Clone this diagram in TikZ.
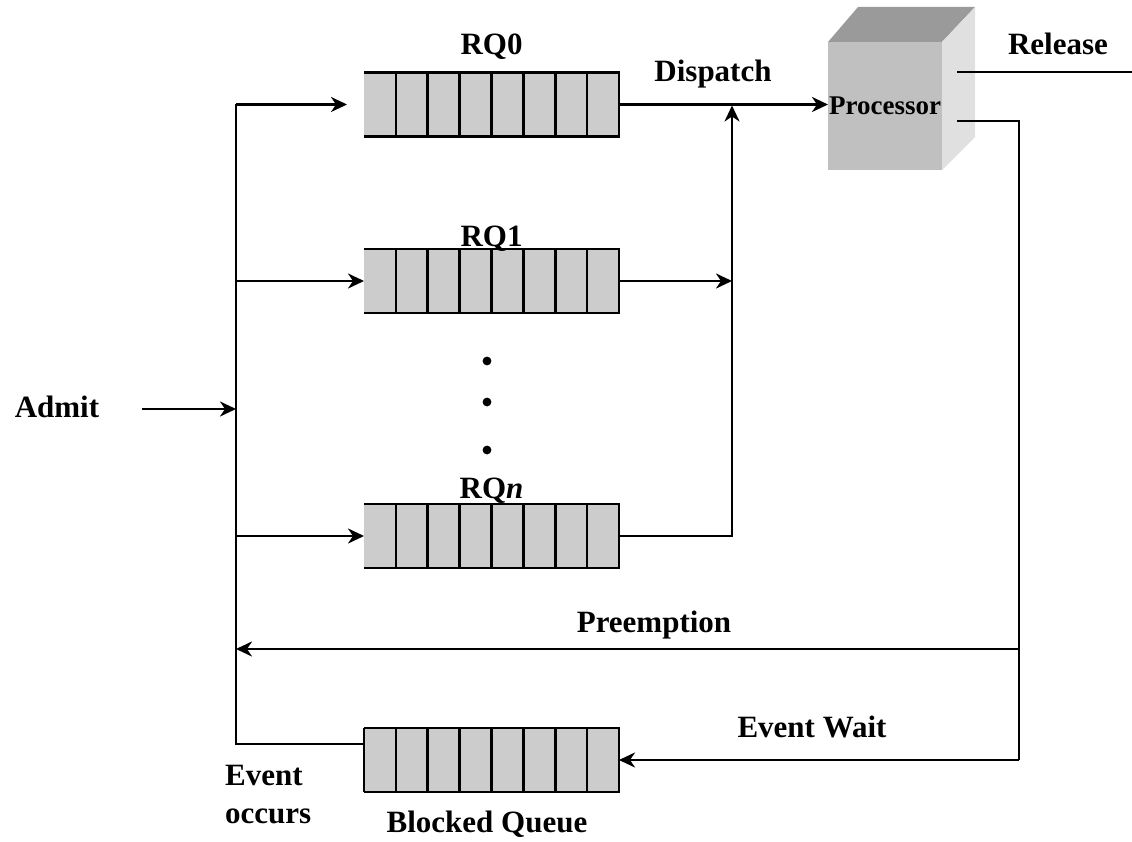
\documentclass[tikz,border=0pt]{standalone}
\usepackage{fontspec}
\setmainfont{Liberation Serif}
\usetikzlibrary{arrows.meta,calc}
\definecolor{qgray}{HTML}{CCCCCC}
\definecolor{cubetop}{HTML}{9A9A9A}
\definecolor{cubefront}{HTML}{C0C0C0}
\definecolor{cubeside}{HTML}{E0E0E0}

% cell dividers plus top, right and bottom edges of a queue node
\newcommand\queuecells[1]{%
  \foreach \k in {1,...,7}{%
    \draw[wire] ($(#1.north west)!\k/8!(#1.north east)$) -- ($(#1.south west)!\k/8!(#1.south east)$);}
  \draw[wire] (#1.north west) -- (#1.north east) -- (#1.south east) -- (#1.south west);
}

\begin{document}
\begin{tikzpicture}[x=1pt,y=-1pt,
  wire/.style={line width=2.6pt},
  flow/.style={line width=2.6pt,-{Stealth[length=16pt,width=15pt,inset=5pt]}},
  queuebox/.style={fill=qgray,minimum width=255pt,minimum height=64pt,inner sep=0pt,outer sep=0pt},
  lbl/.style={font=\fontsize{31}{36}\selectfont\bfseries,inner sep=0pt,anchor=base},
  plbl/.style={font=\fontsize{27}{30}\selectfont\bfseries,inner sep=0pt,anchor=base}]

\useasboundingbox (0,0) rectangle (1132,842);

% ready queues and blocked queue
\node[queuebox] (rq0) at (491.5,104.5) {};
\node[queuebox] (rq1) at (491.5,281) {};
\node[queuebox] (rqn) at (491.5,536) {};
\node[queuebox] (bq)  at (491.5,760) {};
\queuecells{rq0}
\queuecells{rq1}
\queuecells{rqn}
\queuecells{bq}
\draw[wire] (bq.north west) -- (bq.south west);

% queue labels
\node[lbl] (lrq0) at (491.5,55) {RQ0};
\node[lbl] (lrq1) at (491.5,247) {RQ1};
\node[lbl] (lrqn) at (491.5,498) {RQ\textit{n}};
\node[lbl] (lbq)  at (487,832) {Blocked Queue};

% dots between RQ1 and RQn
\foreach \yy in {361,402,450}{\fill (487,\yy) circle (4.4pt);}

% processor drawn as a shaded block
\node[fill=cubefront,minimum width=114pt,minimum height=128pt,inner sep=0pt,outer sep=0pt] (proc) at (885,106) {};
\fill[cubetop] (proc.north west) -- (858,7) -- (975,7) -- (proc.north east) -- cycle;
\fill[cubeside] (proc.north east) -- (975,7) -- (975,137) -- (proc.south east) -- cycle;
\node[plbl] (lproc) at (885,115) {Processor};

% routing points
\coordinate (bustop) at (236,104.5);
\coordinate (busadmit) at (236,409);
\coordinate (admitstart) at (142,409);
\coordinate (bq-exit) at ([yshift=16pt]bq.west);
\coordinate (busbot) at (236,744);
\coordinate (merge) at (732,104.5);
\coordinate (relout) at (957,72);
\coordinate (relend) at (1132,72);
\coordinate (procout) at (957,121);
\coordinate (rtcorner) at (1019,121);
\coordinate (preempt) at (1019,649);
\coordinate (preemptend) at (236,649);
\coordinate (waitcorner) at (1019,760);

% admit and the entry bus
\draw[flow] (admitstart) -- (busadmit);
\draw[wire] (bq-exit) -- (busbot) -- (bustop);
\draw[flow,shorten >=17pt] (bustop) -- (rq0.west);
\draw[flow] (bustop |- rq1.west) -- (rq1.west);
\draw[flow] (bustop |- rqn.west) -- (rqn.west);

% dispatch paths
\draw[flow] (rq0.east) -- (proc.west |- rq0.east);
\draw[flow] (rq1.east) -- (merge |- rq1.east);
\draw[flow,shorten >=1pt] (rqn.east) -- (merge |- rqn.east) -- (merge);

% release, preemption and event wait
\draw[wire] (relout) -- (relend);
\draw[wire] (procout) -- (rtcorner) -- (waitcorner);
\draw[flow] (waitcorner) -- (bq.east);
\draw[flow] (preempt) -- (preemptend);

% connector labels
\node[lbl] (ldisp) at (713,82) {Dispatch};
\node[lbl] (lrel) at (1058,55) {Release};
\node[lbl] (ladmit) at (57,417) {Admit};
\node[lbl] (lpre) at (654,632) {Preemption};
\node[lbl] (lwait) at (812,737) {Event Wait};
\node[lbl,anchor=base west] (levent) at (225,785) {Event};
\node[lbl,anchor=base west] (loccurs) at (225,823) {occurs};
\end{tikzpicture}
\end{document}
